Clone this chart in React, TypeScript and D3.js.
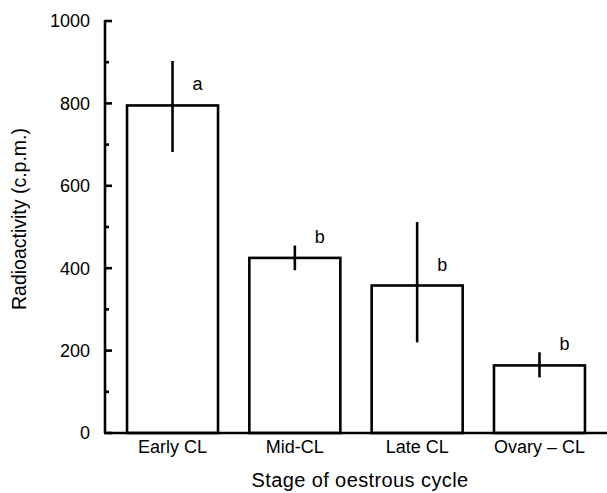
import React from "react";
import * as d3 from "d3";

const categories = ["Early CL", "Mid-CL", "Late CL", "Ovary \u2013 CL"];
const means = [795, 425, 358, 164];
const errHigh = [903, 455, 512, 196];
const errLow = [682, 395, 220, 135];
const letters = ["a", "b", "b", "b"];
const yTicks = [0, 200, 400, 600, 800, 1000];
const yMinorTicks = [100, 300, 500, 700, 900];

const W = 607;
const H = 493;
const FONT = "'Liberation Sans', Arial, Helvetica, sans-serif";

export default function App() {
  const x = d3
    .scaleBand<string>()
    .domain(categories)
    .range([105, 607])
    .paddingInner(0.256)
    .paddingOuter(0.18);
  const y = d3.scaleLinear().domain([0, 1000]).range([433, 21]);
  const sw = 2.6;

  return (
    <svg
      width={W}
      height={H}
      style={{ position: "absolute", left: 0, top: 0, background: "#fff" }}
      fontFamily={FONT}
    >
      <rect x={0} y={0} width={W} height={H} fill="#fff" />
      {/* bars */}
      {categories.map((c, i) => (
        <rect
          key={c}
          x={x(c)!}
          y={y(means[i])}
          width={x.bandwidth()}
          height={y(0) - y(means[i])}
          fill="#fff"
          stroke="#000"
          strokeWidth={sw}
        />
      ))}
      {/* error bars */}
      {categories.map((c, i) => (
        <line
          key={c + "e"}
          x1={x(c)! + x.bandwidth() / 2}
          x2={x(c)! + x.bandwidth() / 2}
          y1={y(errHigh[i])}
          y2={y(errLow[i])}
          stroke="#000"
          strokeWidth={sw}
        />
      ))}
      {/* letters */}
      {categories.map((c, i) => (
        <text
          key={c + "l"}
          x={x(c)! + x.bandwidth() / 2 + 25}
          y={y(means[i]) - 15}
          fontSize={18}
          textAnchor="middle"
        >
          {letters[i]}
        </text>
      ))}
      {/* y axis */}
      <line x1={105} x2={105} y1={y(1000) - 1} y2={y(0)} stroke="#000" strokeWidth={sw} />
      {yTicks.map((t) => (
        <g key={t}>
          <line x1={105} x2={112} y1={y(t)} y2={y(t)} stroke="#000" strokeWidth={sw} />
          <text x={90} y={y(t)} dy="0.36em" textAnchor="end" fontSize={18}>
            {t}
          </text>
        </g>
      ))}
      {yMinorTicks.map((t) => (
        <line key={t} x1={105} x2={109} y1={y(t)} y2={y(t)} stroke="#000" strokeWidth={sw} />
      ))}
      {/* x axis */}
      <line x1={104} x2={607} y1={y(0)} y2={y(0)} stroke="#000" strokeWidth={sw} />
      {categories.map((c) => (
        <text
          key={c + "t"}
          x={x(c)! + x.bandwidth() / 2}
          y={453}
          textAnchor="middle"
          fontSize={18}
        >
          {c}
        </text>
      ))}
      <text x={360} y={487} textAnchor="middle" fontSize={20} letterSpacing={0.4}>
        Stage of oestrous cycle
      </text>
      <text
        transform={`translate(26,219) rotate(-90)`}
        textAnchor="middle"
        fontSize={19.5}
      >
        Radioactivity (c.p.m.)
      </text>
    </svg>
  );
}
